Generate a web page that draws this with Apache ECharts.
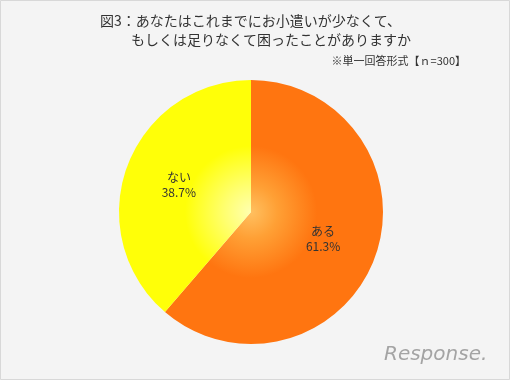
<!DOCTYPE html>
<html><head><meta charset="utf-8">
<script src="https://cdn.jsdelivr.net/npm/echarts@6/dist/echarts.min.js"></script>
<style>html,body{margin:0;padding:0;background:#f4f4f4}#c{width:510px;height:380px}</style>
</head><body><div id="c"></div>
<script>
var categories = ['ある', 'ない'];
var values = [61.3, 38.7];
var titleLines = ['図3：あなたはこれまでにお小遣いが少なくて、', 'もしくは足りなくて困ったことがありますか'];
var subtitle = '※単一回答形式【ｎ=300】';

var cx = 251, cy = 212, R = 132;
function grad(inner, mid, outer) {
  return {type:'radial', x:cx, y:cy, r:R, global:true,
    colorStops:[{offset:0,color:inner},{offset:0.2,color:mid},{offset:0.5,color:outer},{offset:1,color:outer}]};
}
var fills = [grad('#ffc060', '#ffa035', '#ff7510'), grad('#ffffb0', '#ffff70', '#ffff08')];
var font = '"Noto Sans CJK JP", sans-serif';

var chart = echarts.init(document.getElementById('c'));
chart.setOption({
  backgroundColor: '#f4f4f4',
  animation: false,
  graphic: [
    {type:'rect', shape:{x:0.5,y:0.5,width:509,height:379}, style:{fill:'none', stroke:'#d8d8d8', lineWidth:1}, silent:true},
    {type:'text', left:100, top:14, style:{text:titleLines[0], font:'14px '+font, fill:'#333'}},
    {type:'text', left:131, top:33, style:{text:titleLines[1], font:'14px '+font, fill:'#333'}},
    {type:'text', right:44, top:55, style:{text:subtitle, font:'11px '+font, fill:'#333'}},
    {type:'text', left:384, top:345, style:{text:'Response.', font:'italic 20px "DejaVu Sans", sans-serif', fill:'#a4a4a4'}}
  ],
  series: [{
    type:'pie', center:[cx, cy], radius:[0, R], startAngle:90, clockwise:true,
    silent:true, label:{show:false}, labelLine:{show:false},
    itemStyle:{borderWidth:0},
    data: categories.map(function(n,i){return {name:n, value:values[i], itemStyle:{color:fills[i]}};})
  },{
    type:'pie', center:[cx, cy], radius:[0, R*1.12], startAngle:90, clockwise:true,
    silent:true, z:5,
    itemStyle:{color:'rgba(0,0,0,0)', borderWidth:0},
    label:{show:true, position:'inside', formatter:function(p){return p.name+'\n'+p.value.toFixed(1)+'%';},
      fontSize:12, lineHeight:15, color:'#333', fontFamily:font},
    labelLine:{show:false},
    data: categories.map(function(n,i){return {name:n, value:values[i]};})
  }]
});
</script></body></html>
